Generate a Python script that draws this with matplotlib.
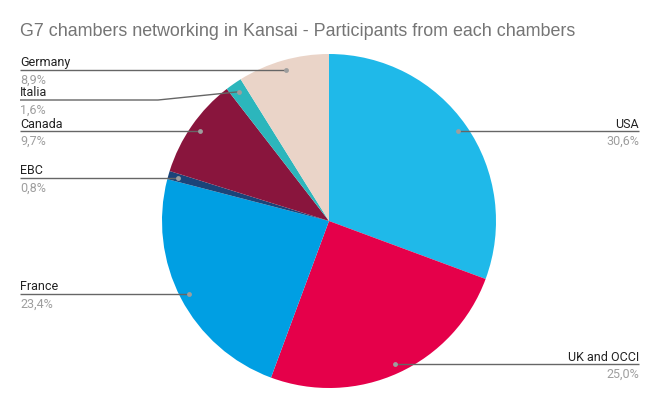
import numpy as np
import matplotlib
matplotlib.use("Agg")
import matplotlib.pyplot as plt

categories = ["USA", "UK and OCCI", "France", "EBC", "Canada", "Italia", "Germany"]
participants = [38, 31, 29, 1, 12, 2, 11]
pct_labels = ["30,6%", "25,0%", "23,4%", "0,8%", "9,7%", "1,6%", "8,9%"]
colors = ["#1FB9E9", "#E5004A", "#009FE3", "#1B4479", "#89153D", "#2CB6BC", "#EAD4C8"]
title = "G7 chambers networking in Kansai - Participants from each chambers"

W, H = 659, 408
plt.rcParams['font.family'] = ['Liberation Sans', 'DejaVu Sans']
fig = plt.figure(figsize=(W / 100, H / 100), dpi=100)
ax = fig.add_axes([0, 0, 1, 1])

cx, cy, R = 329, H - 221, 167
wedges, _ = ax.pie(participants, colors=colors, startangle=90, counterclock=False,
                   center=(cx, cy), radius=R, wedgeprops=dict(linewidth=0),
                   frame=True)
ax.set_xlim(0, W)
ax.set_ylim(0, H)
ax.set_aspect('equal')
ax.axis('off')

# label line overrides (pixel y from top) for crowded labels
line_override = {"Italia": 100.0}

for w, name, pct in zip(wedges, categories, pct_labels):
    mid = np.deg2rad((w.theta1 + w.theta2) / 2)
    px = cx + 0.943 * R * np.cos(mid)
    py = cy + 0.943 * R * np.sin(mid)
    right = np.cos(mid) > 0
    if right:
        x_end = 639
        xs = [px, x_end]
        ys = [py, py]
        ly = py
        ha = 'right'
    else:
        x_end = 20
        if name in line_override:
            ly = H - line_override[name]
            xs = [px, 158, x_end]
            ys = [py, ly, ly]
        else:
            xs = [px, x_end]
            ys = [py, py]
            ly = py
        ha = 'left'
    ax.plot(xs, ys, color='#666666', lw=1.0, solid_capstyle='butt', zorder=3)
    ax.plot([px], [py], 'o', color='#9E9E9E', ms=3.5, mec='none', zorder=4)
    ax.text(x_end, ly + 3.5, name, ha=ha, va='baseline', fontsize=9,
            color='#222222', family=['Roboto', 'DejaVu Sans'])
    ax.text(x_end, ly - 14.0, pct, ha=ha, va='baseline', fontsize=9,
            color='#9E9E9E', family=['Roboto', 'DejaVu Sans'])

fig.text(20 / W, 1 - 31 / H, title, ha='left', va='center', fontsize=12.9, color='#757575')

fig.savefig("out.png", dpi=100, facecolor='white')
